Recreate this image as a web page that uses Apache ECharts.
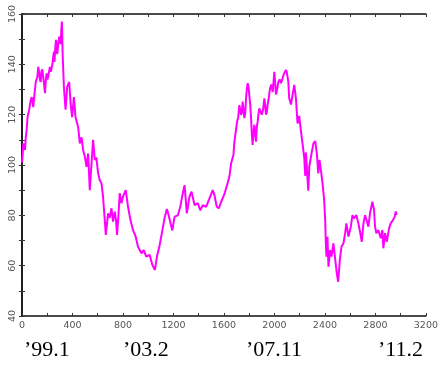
<!DOCTYPE html>
<html><head><meta charset="utf-8">
<script src="https://cdn.jsdelivr.net/npm/echarts@6/dist/echarts.min.js"></script>
<style>html,body{margin:0;padding:0;background:#fff}#c{width:441px;height:365px}</style>
</head><body><div id="c"></div>
<script>
const days = [0,5,10,17,24,30,37,44,50,57,63,70,77,83,89,96,103,109,115,122,129,135,142,148,154,161,168,175,182,188,195,201,208,214,221,228,235,241,247,253,258,263,269,274,279,287,295,300,306,311,316,322,332,345,358,374,385,397,411,424,445,458,472,484,498,511,524,537,551,563,577,589,603,616,630,642,656,664,682,695,709,721,735,745,753,764,774,788,800,822,840,859,879,901,919,932,946,964,985,1011,1033,1053,1069,1090,1112,1130,1148,1164,1175,1191,1209,1235,1254,1274,1288,1306,1327,1343,1367,1393,1412,1432,1459,1480,1511,1525,1543,1559,1578,1604,1630,1643,1657,1662,1675,1683,1704,1713,1722,1729,1736,1742,1748,1755,1762,1769,1775,1781,1788,1795,1801,1808,1815,1821,1827,1834,1841,1847,1854,1860,1867,1873,1880,1890,1899,1910,1920,1926,1933,1940,1946,1956,1965,1975,1986,1993,1999,2005,2012,2021,2031,2041,2052,2062,2072,2081,2091,2097,2104,2110,2117,2131,2144,2157,2170,2183,2196,2210,2223,2236,2244,2249,2257,2268,2276,2294,2309,2323,2336,2347,2357,2368,2381,2394,2402,2407,2412,2420,2428,2441,2452,2467,2479,2494,2505,2518,2531,2547,2560,2570,2586,2605,2618,2631,2649,2665,2678,2692,2705,2718,2728,2744,2757,2776,2789,2797,2807,2823,2842,2855,2863,2876,2890,2908,2921,2939,2953,2961,2968];
const values = [101,104,108.6,107,106,111,114,119,120.5,122,124,126,127,125,123,127,130,133,134,135,139,137,134,133,137,138,135,132,128.5,133,136.4,134,135,137,139,137,136.4,140,143,145,141,146,149.7,147,144,148,151,150,148,153,157,144,131,122,131,133,124.5,119,127,119,115,108.6,111,106,103.3,99.3,104.6,90,100.7,110,102,103,96.7,94,92.7,87.4,78,72.2,80.8,79,82.8,77.5,81.5,78,72.2,80,88.8,84.8,87.4,90,83.4,78.2,74.2,71.5,67.5,68,64.9,66.2,63.6,64.3,60.3,58.3,63.6,68,74,79,82.5,79.5,80,74,79.5,80,83.4,88.8,92,80.8,87.4,89.4,84.1,84.8,82,84,83.4,86,90,88,83.4,82.8,85.4,88.5,93,95.4,100.7,100,104,109.3,117.2,119,123.8,122,119.9,121,125.2,122,118.6,121,126.5,130,132.5,131,130.5,124,118.6,112,108,113,116,112,109.3,115,117.2,120,122.5,123,120,122,126.5,124,120,121,124,127,130.5,132,129,133,137,133,128,130,133,134,132.5,134,135.8,136,137.8,137,137,133,126.5,124,128,131.8,126.5,116.5,119.5,113.5,108.3,103,95.7,105,104.6,89.8,99.3,104.6,108.6,109.5,104.6,96.7,102,98,92.7,86.1,78.2,68.9,63.6,71.5,59.6,66.2,63.6,68.9,63.6,57,53.6,62.3,67.5,68.9,72.9,76.8,71.5,75.5,80.1,78.8,80.1,76.8,73.5,69.5,76.8,80.1,79.5,75.5,80.8,85.4,82.1,75.5,72.9,74.2,70.9,74.2,66.9,72.9,69.5,74.8,76.8,78.1,79.5,81.5,80.1];
const dateLabels = ['\u201999.1', '\u201903.2', '\u201907.11', '\u201911.2'];
const dateLabelLeft = [24, 123, 246, 378];

const chart = echarts.init(document.getElementById('c'), null, {renderer: 'canvas'});
const axLine = {show: true, lineStyle: {color: '#111', width: 1.5}};
const tick = {show: true, inside: true, length: 3, lineStyle: {color: '#333', width: 1}};
const minor = {show: true, splitNumber: 2, length: 3, lineStyle: {color: '#333', width: 1}};
const lblFont = {color: '#555', fontSize: 9.5, fontFamily: 'DejaVu Sans', formatter: v => String(v)};
chart.setOption({
  animation: false,
  grid: {left: 22, right: 14, top: 14, bottom: 49},
  xAxis: [
    {type: 'value', min: 0, max: 3200, interval: 400, position: 'bottom',
     axisLine: axLine, axisTick: tick, minorTick: minor, splitLine: {show: false},
     axisLabel: Object.assign({margin: 5}, lblFont)},
    {type: 'value', min: 0, max: 3200, interval: 400, position: 'top',
     axisLine: axLine, axisTick: tick, minorTick: minor, splitLine: {show: false},
     axisLabel: {show: false}}
  ],
  yAxis: [
    {type: 'value', min: 40, max: 160, interval: 20, position: 'left',
     axisLine: axLine, axisTick: tick, minorTick: minor, splitLine: {show: false},
     axisLabel: Object.assign({rotate: 90, margin: 4}, lblFont)},
    {type: 'value', min: 40, max: 160, interval: 20, position: 'right',
     axisLine: axLine, axisTick: tick, minorTick: minor, splitLine: {show: false},
     axisLabel: {show: false}}
  ],
  series: [{
    type: 'line', showSymbol: false, symbol: 'none',
    data: days.map((d, i) => [d, values[i]]),
    lineStyle: {color: '#ff00ff', width: 2},
    itemStyle: {color: '#ff00ff'}
  }],
  graphic: dateLabels.map((t, i) => ({
    type: 'text', left: dateLabelLeft[i], top: 339,
    style: {text: t, font: '22px "Liberation Serif"', fill: '#000'}
  }))
});
</script></body></html>
